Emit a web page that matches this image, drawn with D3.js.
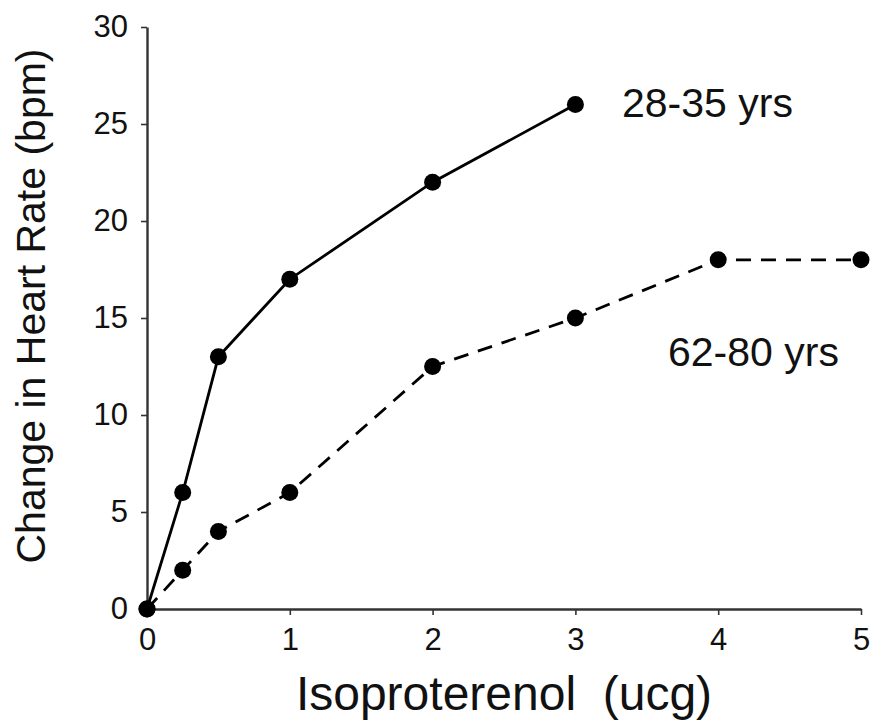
<!DOCTYPE html>
<html><head><meta charset="utf-8">
<script src="https://cdn.jsdelivr.net/npm/d3@7"></script>
<style>body{margin:0;background:#fff}svg{display:block}text{font-family:"Liberation Sans",Arial,sans-serif;fill:#111}</style>
</head><body>
<script>
const doses = [0, 0.25, 0.5, 1, 2, 3, 4, 5];
const youngValues = [0, 6, 13, 17, 22, 26];
const oldValues = [0, 2, 4, 6, 12.5, 15, 18, 18];
const xTicks = [0, 1, 2, 3, 4, 5];
const yTicks = [0, 5, 10, 15, 20, 25, 30];
const seriesLabels = ["28-35 yrs", "62-80 yrs"];

const W = 871, H = 721;
const FONT = '"Liberation Sans",Arial,sans-serif';
const svg = d3.select("body").append("svg").attr("width", W).attr("height", H);
const x = d3.scaleLinear().domain([0, 5]).range([147, 861]);
const y = d3.scaleLinear().domain([0, 30]).range([609, 27]);

const xAxis = svg.append("g").attr("transform", `translate(0,${y(0)})`)
  .call(d3.axisBottom(x).tickValues(xTicks).tickFormat(d3.format("d")).tickSize(6).tickPadding(13).tickSizeOuter(0));
const yAxis = svg.append("g").attr("transform", `translate(${x(0)},0)`)
  .call(d3.axisLeft(y).tickValues(yTicks).tickFormat(d3.format("d")).tickSize(6).tickPadding(13).tickSizeOuter(0));
[xAxis, yAxis].forEach(g => {
  g.attr("font-size", 31).attr("font-family", FONT);
  g.select(".domain").attr("stroke", "#333").attr("stroke-width", 2.4);
  g.selectAll(".tick line").attr("stroke", "#333").attr("stroke-width", 1.6);
  g.selectAll(".tick text").attr("fill", "#1a1a1a");
});

const young = youngValues.map((v, i) => [doses[i], v]);
const old = oldValues.map((v, i) => [doses[i], v]);
const line = d3.line().x(d => x(d[0])).y(d => y(d[1]));

svg.append("path").datum(old).attr("d", line).attr("fill", "none")
  .attr("stroke", "#000").attr("stroke-width", 2.8).attr("stroke-dasharray", "15,10");
svg.append("path").datum(young).attr("d", line).attr("fill", "none")
  .attr("stroke", "#000").attr("stroke-width", 2.8);

[old, young].forEach(s => {
  svg.append("g").selectAll("circle").data(s).join("circle")
    .attr("cx", d => x(d[0])).attr("cy", d => y(d[1])).attr("r", 8.5).attr("fill", "#000");
});

svg.append("text").attr("x", 622).attr("y", 117).attr("font-size", 41).text(seriesLabels[0]);
svg.append("text").attr("x", 668).attr("y", 366).attr("font-size", 41).text(seriesLabels[1]);

svg.append("text").attr("x", 504).attr("y", 710).attr("text-anchor", "middle")
  .attr("font-size", 48).attr("xml:space", "preserve").text("Isoproterenol  (ucg)");
svg.append("text").attr("transform", "translate(45,306) rotate(-90)").attr("text-anchor", "middle")
  .attr("font-size", 41).text("Change in Heart Rate (bpm)");
</script>
</body></html>
